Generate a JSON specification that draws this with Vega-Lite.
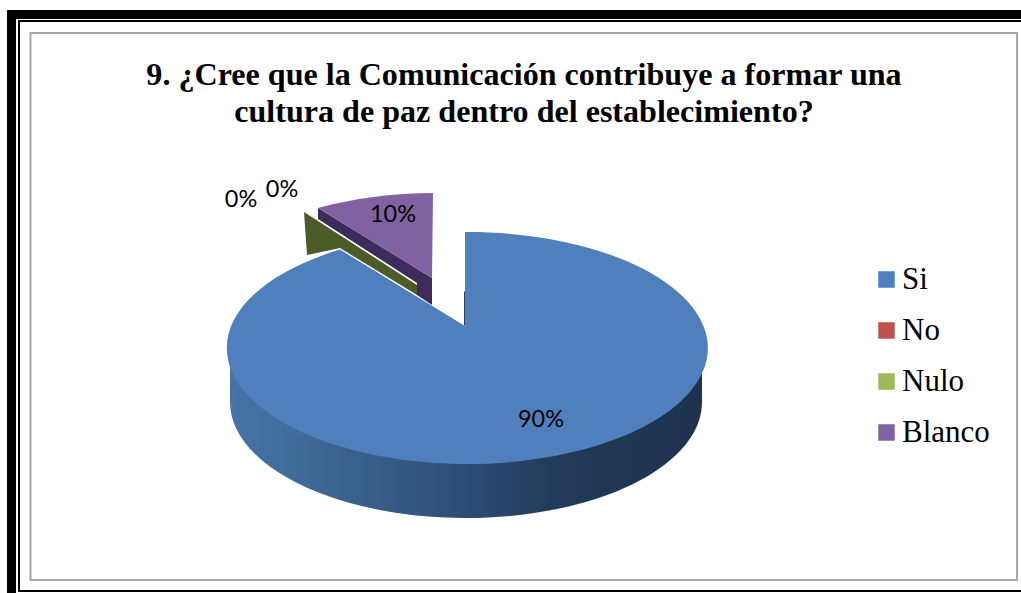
{
  "$schema": "https://vega.github.io/schema/vega-lite/v6.json",
  "width": 1021,
  "height": 593,
  "autosize": {"type": "none"},
  "padding": 0,
  "background": "white",
  "config": {"view": {"stroke": null}},
  "title": {
    "text": ["9. ¿Cree que la Comunicación contribuye a formar una", "cultura de paz dentro del establecimiento?"],
    "font": "Liberation Serif",
    "fontSize": 32.1,
    "fontWeight": "bold",
    "color": "#000000",
    "anchor": "middle",
    "frame": "group",
    "dx": 13.5,
    "baseline": "alphabetic",
    "lineHeight": 37,
    "offset": -154
  },
  "data": {
    "values": [
      {"categoria": "Si", "porcentaje": 0.9},
      {"categoria": "No", "porcentaje": 0},
      {"categoria": "Nulo", "porcentaje": 0},
      {"categoria": "Blanco", "porcentaje": 0.1}
    ]
  },
  "resolve": {"legend": {"color": "independent"}},
  "layer": [
    {
      "transform": [{"filter": "datum.categoria === 'Si'"}],
      "mark": {"type": "point", "filled": true, "opacity": 1, "size": 4, "fill": "#000000",
        "shape": "M-503.5 -286.5 L510.5 -286.5 L510.5 -277.5 L-494.5 -277.5 L-494.5 296.5 L-503.5 296.5 Z"}
    },
    {
      "transform": [{"filter": "datum.categoria === 'Si'"}],
      "mark": {"type": "point", "filled": false, "opacity": 1, "size": 4, "stroke": "#000000", "strokeWidth": 2,
        "shape": "M510.5 -275.5 L-491.5 -275.5 L-491.5 294.5 L510.5 294.5"}
    },
    {
      "transform": [{"filter": "datum.categoria === 'Si'"}],
      "mark": {"type": "point", "filled": false, "opacity": 1, "size": 4, "stroke": "#a6a6a6", "strokeWidth": 2,
        "shape": "M-480 -263.5 L506.5 -263.5 L506.5 283.5 L-480 283.5 Z"}
    },
    {
      "transform": [{"filter": "datum.categoria === 'Blanco'"}],
      "mark": {"type": "point", "filled": true, "opacity": 1, "size": 4, "fill": "#3d2b5c",
        "shape": "M-192.5 -88.5 L-192.5 -77.5 L-93.5 -13.5 L-93.5 -1.5 L-78.5 8.5 L-78.5 -18.5 Z"}
    },
    {
      "transform": [{"filter": "datum.categoria === 'Nulo'"}],
      "mark": {"type": "point", "filled": true, "opacity": 1, "size": 4, "fill": "#4c5c27",
        "shape": "M-206.5 -84.5 L-192.5 -75.5 L-93.5 -11.5 L-93.5 -1.5 L-170.5 -48.5 L-203.5 -41.5 Z"}
    },
    {
      "transform": [{"filter": "datum.categoria === 'Si'"}],
      "mark": {"type": "point", "filled": true, "opacity": 1, "size": 4, "fill": "#2a4060",
        "shape": "M-46.5 -5 L-45 -5 L-45 29 L-46.5 29 Z"}
    },
    {
      "transform": [{"filter": "datum.categoria === 'Si'"}],
      "mark": {"type": "point", "filled": true, "opacity": 1, "size": 4,
        "fill": {
          "gradient": "linear", "x1": 0, "y1": 0, "x2": 1, "y2": 0,
          "stops": [
            {"offset": 0, "color": "#4674a6"},
            {"offset": 0.15, "color": "#406a98"},
            {"offset": 0.45, "color": "#30517a"},
            {"offset": 0.7, "color": "#223a58"},
            {"offset": 1, "color": "#1d324d"}
          ]
        },
        "shape": "M-280.5 51.5 L-280.5 105.5 A236 116 0 0 0 191.5 105.5 L191.5 51.5 Z"}
    },
    {
      "mark": {"type": "point", "filled": true, "opacity": 1, "size": 4},
      "encoding": {
        "color": {
          "field": "categoria", "type": "nominal", "legend": null,
          "scale": {"domain": ["Si", "No", "Nulo", "Blanco"], "range": ["#4f7fbc", "#c0504d", "#9bbb59", "#8062a2"]}
        },
        "shape": {
          "field": "categoria", "type": "nominal", "legend": null,
          "scale": {
            "domain": ["Si", "No", "Nulo", "Blanco"],
            "range": [
              "M-45.5 29.5 L-45.5 -64.49 A240.5 116 0 1 1 -170.5 -46.9 Z",
              "M0 0",
              "M0 0",
              "M-78.5 -18.5 L-192.5 -88.5 A240 116 0 0 1 -77.5 -103.5 Z"
            ]
          }
        }
      }
    },
    {
      "mark": {"type": "point", "filled": true, "opacity": 1, "size": 0, "shape": "square"},
      "encoding": {
        "color": {
          "field": "categoria", "type": "nominal",
          "legend": {
            "title": null, "orient": "none", "legendX": 871, "legendY": 264,
            "symbolType": "square", "symbolSize": 272, "symbolStrokeWidth": 0,
            "labelFont": "Liberation Serif", "labelFontSize": 31, "labelColor": "#000000",
            "labelOffset": 0, "rowPadding": 19, "padding": 0, "labelLimit": 200
          }
        }
      }
    },
    {
      "transform": [{"filter": "datum.categoria === 'Si'"}],
      "mark": {"type": "text", "font": "Lato", "fontSize": 23.5, "color": "#000000", "dx": 30.5, "dy": 123.5},
      "encoding": {"text": {"field": "porcentaje", "type": "quantitative", "format": ".0%"}}
    },
    {
      "transform": [{"filter": "datum.categoria === 'Blanco'"}],
      "mark": {"type": "text", "font": "Lato", "fontSize": 23.5, "color": "#000000", "dx": -117.5, "dy": -81.5},
      "encoding": {"text": {"field": "porcentaje", "type": "quantitative", "format": ".0%"}}
    },
    {
      "transform": [{"filter": "datum.categoria === 'No'"}],
      "mark": {"type": "text", "font": "Lato", "fontSize": 23.5, "color": "#000000", "dx": -269.5, "dy": -96.5},
      "encoding": {"text": {"field": "porcentaje", "type": "quantitative", "format": ".0%"}}
    },
    {
      "transform": [{"filter": "datum.categoria === 'Nulo'"}],
      "mark": {"type": "text", "font": "Lato", "fontSize": 23.5, "color": "#000000", "dx": -228.5, "dy": -106.5},
      "encoding": {"text": {"field": "porcentaje", "type": "quantitative", "format": ".0%"}}
    }
  ]
}
